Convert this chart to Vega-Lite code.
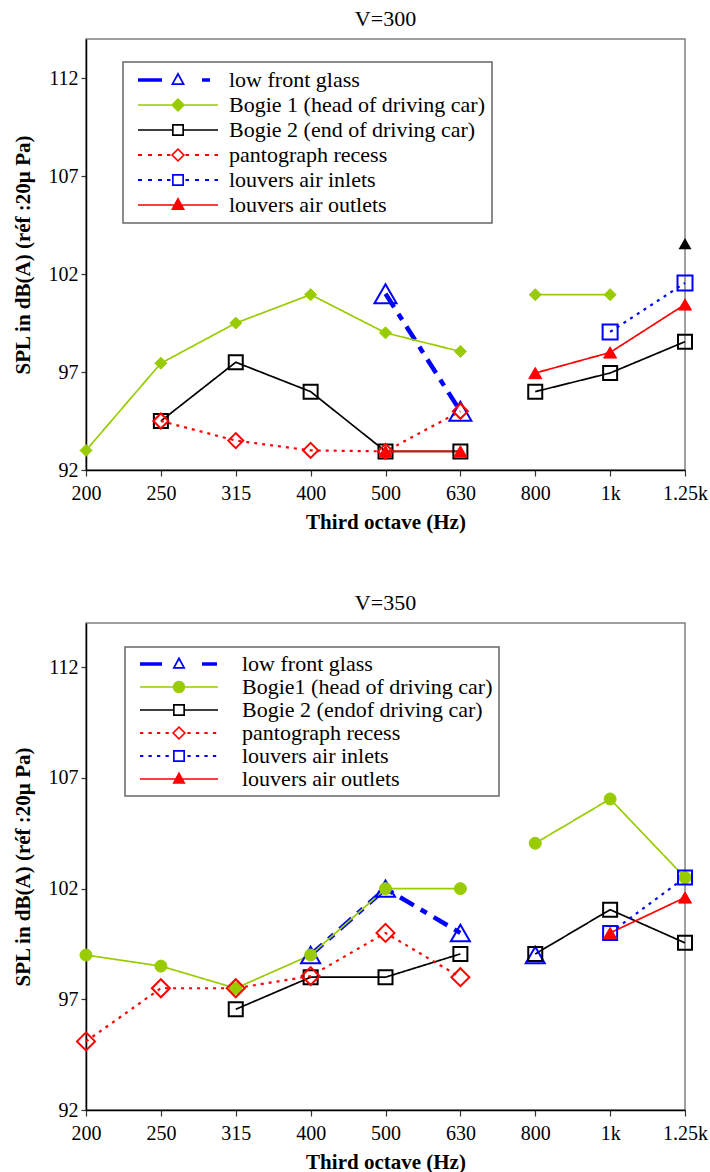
{
  "$schema": "https://vega.github.io/schema/vega-lite/v6.json",
  "background": "white",
  "padding": {"left": 11, "top": 7, "right": 0, "bottom": 0},
  "spacing": 58,
  "config": {
    "font": "Liberation Serif",
    "style": {"guide-label": {"font": "Liberation Serif"}, "guide-title": {"font": "Liberation Serif"}, "group-title": {"font": "Liberation Serif"}},
    "view": {"stroke": "#808080", "strokeWidth": 1.5},
    "axis": {"labelFont": "Liberation Serif", "titleFont": "Liberation Serif", "labelFontSize": 20, "titleFontSize": 21, "titleFontWeight": "bold", "labelColor": "black", "titleColor": "black", "domainColor": "black", "domainWidth": 1.5, "tickColor": "#333333", "tickWidth": 1.2, "tickSize": 6, "grid": false, "labelPadding": 3},
    "axisX": {"labelAngle": 0, "labelPadding": 7, "titlePadding": 8},
    "axisY": {"titlePadding": 15, "tickSize": 5},
    "title": {"font": "Liberation Serif", "fontSize": 22, "fontWeight": "normal", "color": "black", "offset": 8, "frame": "group"},
    "legend": {"labelFont": "Liberation Serif", "labelFontSize": 22, "labelColor": "black", "labelLimit": 400, "strokeColor": "#666666", "strokeWidth": 1.5, "fillColor": "white", "symbolSize": 144, "symbolStrokeWidth": 0, "symbolOpacity": 1}
  },
  "datasets": {
    "v300": [
      {"series": "low front glass", "hz": 500, "spl": 101, "seg": 1},
      {"series": "low front glass", "hz": 630, "spl": 95, "seg": 1},
      {"series": "Bogie 1 (head of driving car)", "hz": 200, "spl": 93, "seg": 1},
      {"series": "Bogie 1 (head of driving car)", "hz": 250, "spl": 97.45, "seg": 1},
      {"series": "Bogie 1 (head of driving car)", "hz": 315, "spl": 99.5, "seg": 1},
      {"series": "Bogie 1 (head of driving car)", "hz": 400, "spl": 100.95, "seg": 1},
      {"series": "Bogie 1 (head of driving car)", "hz": 500, "spl": 99, "seg": 1},
      {"series": "Bogie 1 (head of driving car)", "hz": 630, "spl": 98.05, "seg": 1},
      {"series": "Bogie 1 (head of driving car)", "hz": 800, "spl": 100.95, "seg": 2},
      {"series": "Bogie 1 (head of driving car)", "hz": 1000, "spl": 100.95, "seg": 2},
      {"series": "Bogie 2 (end of driving car)", "hz": 250, "spl": 94.5, "seg": 1},
      {"series": "Bogie 2 (end of driving car)", "hz": 315, "spl": 97.5, "seg": 1},
      {"series": "Bogie 2 (end of driving car)", "hz": 400, "spl": 96, "seg": 1},
      {"series": "Bogie 2 (end of driving car)", "hz": 500, "spl": 92.95, "seg": 1},
      {"series": "Bogie 2 (end of driving car)", "hz": 630, "spl": 92.95, "seg": 1},
      {"series": "Bogie 2 (end of driving car)", "hz": 800, "spl": 96, "seg": 2},
      {"series": "Bogie 2 (end of driving car)", "hz": 1000, "spl": 96.95, "seg": 2},
      {"series": "Bogie 2 (end of driving car)", "hz": 1250, "spl": 98.55, "seg": 2},
      {"series": "pantograph recess", "hz": 250, "spl": 94.5, "seg": 1},
      {"series": "pantograph recess", "hz": 315, "spl": 93.5, "seg": 1},
      {"series": "pantograph recess", "hz": 400, "spl": 93, "seg": 1},
      {"series": "pantograph recess", "hz": 500, "spl": 92.95, "seg": 1},
      {"series": "pantograph recess", "hz": 630, "spl": 95, "seg": 1},
      {"series": "louvers air inlets", "hz": 1000, "spl": 99.05, "seg": 2},
      {"series": "louvers air inlets", "hz": 1250, "spl": 101.55, "seg": 2},
      {"series": "louvers air outlets", "hz": 500, "spl": 92.95, "seg": 1},
      {"series": "louvers air outlets", "hz": 630, "spl": 92.95, "seg": 1},
      {"series": "louvers air outlets", "hz": 800, "spl": 96.95, "seg": 2},
      {"series": "louvers air outlets", "hz": 1000, "spl": 98, "seg": 2},
      {"series": "louvers air outlets", "hz": 1250, "spl": 100.45, "seg": 2}
    ],
    "v350": [
      {"series": "low front glass", "hz": 400, "spl": 99, "seg": 1},
      {"series": "low front glass", "hz": 500, "spl": 102, "seg": 1},
      {"series": "low front glass", "hz": 630, "spl": 100, "seg": 1},
      {"series": "low front glass", "hz": 800, "spl": 99, "seg": 2},
      {"series": "Bogie1 (head of driving car)", "hz": 200, "spl": 99, "seg": 1},
      {"series": "Bogie1 (head of driving car)", "hz": 250, "spl": 98.5, "seg": 1},
      {"series": "Bogie1 (head of driving car)", "hz": 315, "spl": 97.5, "seg": 1},
      {"series": "Bogie1 (head of driving car)", "hz": 400, "spl": 99, "seg": 1},
      {"series": "Bogie1 (head of driving car)", "hz": 500, "spl": 102, "seg": 1},
      {"series": "Bogie1 (head of driving car)", "hz": 630, "spl": 102, "seg": 1},
      {"series": "Bogie1 (head of driving car)", "hz": 800, "spl": 104.05, "seg": 2},
      {"series": "Bogie1 (head of driving car)", "hz": 1000, "spl": 106.05, "seg": 2},
      {"series": "Bogie1 (head of driving car)", "hz": 1250, "spl": 102.5, "seg": 2},
      {"series": "Bogie 2 (endof driving car)", "hz": 315, "spl": 96.55, "seg": 1},
      {"series": "Bogie 2 (endof driving car)", "hz": 400, "spl": 98, "seg": 1},
      {"series": "Bogie 2 (endof driving car)", "hz": 500, "spl": 98, "seg": 1},
      {"series": "Bogie 2 (endof driving car)", "hz": 630, "spl": 99.05, "seg": 1},
      {"series": "Bogie 2 (endof driving car)", "hz": 800, "spl": 99.05, "seg": 2},
      {"series": "Bogie 2 (endof driving car)", "hz": 1000, "spl": 101.05, "seg": 2},
      {"series": "Bogie 2 (endof driving car)", "hz": 1250, "spl": 99.55, "seg": 2},
      {"series": "pantograph recess", "hz": 200, "spl": 95.1, "seg": 1},
      {"series": "pantograph recess", "hz": 250, "spl": 97.5, "seg": 1},
      {"series": "pantograph recess", "hz": 315, "spl": 97.5, "seg": 1},
      {"series": "pantograph recess", "hz": 400, "spl": 98.05, "seg": 1},
      {"series": "pantograph recess", "hz": 500, "spl": 100, "seg": 1},
      {"series": "pantograph recess", "hz": 630, "spl": 98, "seg": 1},
      {"series": "louvers air inlets", "hz": 1000, "spl": 100, "seg": 2},
      {"series": "louvers air inlets", "hz": 1250, "spl": 102.5, "seg": 2},
      {"series": "louvers air outlets", "hz": 1000, "spl": 100, "seg": 2},
      {"series": "louvers air outlets", "hz": 1250, "spl": 101.6, "seg": 2}
    ]
  },
  "vconcat": [
    {
      "title": "V=300",
      "width": 599,
      "height": 431,
      "data": {"name": "v300"},
      "encoding": {
        "x": {"field": "hz", "type": "ordinal", "scale": {"type": "point", "padding": 0, "domain": [200, 250, 315, 400, 500, 630, 800, 1000, 1250]}, "axis": {"title": "Third octave (Hz)", "labelFont": "Liberation Serif", "titleFont": "Liberation Serif", "labelExpr": "datum.value == 1000 ? '1k' : datum.value == 1250 ? '1.25k' : datum.label"}},
        "y": {"field": "spl", "type": "quantitative", "scale": {"domain": [92, 114], "nice": false, "zero": false}, "axis": {"title": "SPL in dB(A) (réf :20µ Pa)", "labelFont": "Liberation Serif", "titleFont": "Liberation Serif", "values": [92, 97, 102, 107, 112]}}
      },
      "layer": [
        {
          "mark": {"type": "line"},
          "encoding": {
            "detail": [{"field": "series", "type": "nominal"}, {"field": "seg", "type": "nominal"}],
            "order": {"field": "hz", "type": "quantitative"},
            "stroke": {"condition": [{"test": "datum.series === 'low front glass' || datum.series === 'louvers air inlets'", "value": "#0000ff"}, {"test": "datum.series === 'Bogie 1 (head of driving car)'", "value": "#99cc00"}, {"test": "datum.series === 'pantograph recess' || datum.series === 'louvers air outlets'", "value": "#ff0000"}], "value": "#000000"},
            "strokeDash": {"condition": [{"test": "datum.series === 'low front glass'", "value": [16, 8, 7, 8]}, {"test": "datum.series === 'pantograph recess' || datum.series === 'louvers air inlets'", "value": [3, 5]}], "value": [1, 0]},
            "strokeWidth": {"condition": [{"test": "datum.series === 'low front glass'", "value": 4.5}, {"test": "datum.series === 'pantograph recess' || datum.series === 'louvers air inlets'", "value": 2.2}], "value": 1.7}
          }
        },
        {
          "mark": {"type": "point", "opacity": 1},
          "encoding": {
            "shape": {"condition": [{"test": "datum.series === 'low front glass' || datum.series === 'louvers air outlets'", "value": "triangle-up"}, {"test": "datum.series === 'Bogie 1 (head of driving car)' || datum.series === 'pantograph recess'", "value": "diamond"}], "value": "square"},
            "fill": {"condition": [{"test": "datum.series === 'Bogie 1 (head of driving car)'", "value": "#99cc00"}, {"test": "datum.series === 'louvers air outlets'", "value": "#ff0000"}], "value": "transparent"},
            "stroke": {"condition": [{"test": "datum.series === 'low front glass' || datum.series === 'louvers air inlets'", "value": "#0000ff"}, {"test": "datum.series === 'Bogie 1 (head of driving car)'", "value": "#99cc00"}, {"test": "datum.series === 'pantograph recess' || datum.series === 'louvers air outlets'", "value": "#ff0000"}], "value": "#000000"},
            "size": {"condition": [{"test": "datum.series === 'low front glass'", "value": 484}, {"test": "datum.series === 'Bogie 1 (head of driving car)'", "value": 144}, {"test": "datum.series === 'pantograph recess' || datum.series === 'louvers air inlets'", "value": 225}, {"test": "datum.series === 'louvers air outlets'", "value": 169}], "value": 196},
            "strokeWidth": {"condition": [{"test": "datum.series === 'Bogie 1 (head of driving car)' || datum.series === 'louvers air outlets'", "value": 1}], "value": 2}
          }
        },
        {
          "transform": [{"filter": "false"}],
          "mark": {"type": "point", "filled": true, "opacity": 1},
          "encoding": {
            "shape": {"field": "series", "type": "nominal",
              "scale": {"domain": ["low front glass", "Bogie 1 (head of driving car)", "Bogie 2 (end of driving car)", "pantograph recess", "louvers air inlets", "louvers air outlets"],
                "range": ["M-6.67,-0.3H-2.67V0.3H-6.67ZM4,-0.3H5.33V0.3H4ZM0,-1.33L1.17,0.83L-1.17,0.83ZM0,-0.72L-0.69,0.55L0.69,0.55Z", "M-6.67,-0.14H6.67V0.14H-6.67ZM0,-1.17L1.17,0L0,1.17L-1.17,0Z", "M-6.67,-0.14H-1V0.14H-6.67ZM1,-0.14H6.67V0.14H1ZM-1,-1H1V1H-1ZM-0.72,-0.72V0.72H0.72V-0.72Z", "M-6.67,-0.17H-6V0.17H-6.67ZM-5,-0.17H-4.33V0.17H-5ZM-3.33,-0.17H-2.67V0.17H-3.33ZM-1.83,-0.17H-1.25V0.17H-1.83ZM1.25,-0.17H1.83V0.17H1.25ZM2.83,-0.17H3.5V0.17H2.83ZM4.5,-0.17H5.17V0.17H4.5ZM6.08,-0.17H6.67V0.17H6.08ZM0,-1.17L1.17,0L0,1.17L-1.17,0ZM0,-0.8L-0.8,0L0,0.8L0.8,0Z", "M-6.67,-0.17H-6V0.17H-6.67ZM-5,-0.17H-4.33V0.17H-5ZM-3.33,-0.17H-2.67V0.17H-3.33ZM-1.83,-0.17H-1.25V0.17H-1.83ZM1.25,-0.17H1.83V0.17H1.25ZM2.83,-0.17H3.5V0.17H2.83ZM4.5,-0.17H5.17V0.17H4.5ZM6.08,-0.17H6.67V0.17H6.08ZM-1,-1H1V1H-1ZM-0.72,-0.72V0.72H0.72V-0.72Z", "M-6.67,-0.14H6.67V0.14H-6.67ZM0,-1.33L1.17,0.83L-1.17,0.83Z"]},
              "legend": {"title": null, "orient": "none", "legendX": 37, "legendY": 23, "padding": 7, "rowPadding": 3, "symbolOffset": 37, "labelOffset": 40}},
            "fill": {"field": "series", "type": "nominal",
              "scale": {"domain": ["low front glass", "Bogie 1 (head of driving car)", "Bogie 2 (end of driving car)", "pantograph recess", "louvers air inlets", "louvers air outlets"], "range": ["#0000ff", "#99cc00", "#000000", "#ff0000", "#0000ff", "#ff0000"]},
              "legend": {"title": null, "orient": "none", "legendX": 37, "legendY": 23, "padding": 7, "rowPadding": 3, "symbolOffset": 37, "labelOffset": 40}}
          }
        },
        {
          "data": {"values": [{"hz": 1250, "spl": 103.55}]},
          "mark": {"type": "point", "shape": "triangle-up", "filled": true, "color": "black", "size": 169, "opacity": 1}
        }
      ]
    },
    {
      "title": "V=350",
      "width": 599,
      "height": 487,
      "data": {"name": "v350"},
      "encoding": {
        "x": {"field": "hz", "type": "ordinal", "scale": {"type": "point", "padding": 0, "domain": [200, 250, 315, 400, 500, 630, 800, 1000, 1250]}, "axis": {"title": "Third octave (Hz)", "labelFont": "Liberation Serif", "titleFont": "Liberation Serif", "labelExpr": "datum.value == 1000 ? '1k' : datum.value == 1250 ? '1.25k' : datum.label"}},
        "y": {"field": "spl", "type": "quantitative", "scale": {"domain": [92, 114], "nice": false, "zero": false}, "axis": {"title": "SPL in dB(A) (réf :20µ Pa)", "labelFont": "Liberation Serif", "titleFont": "Liberation Serif", "values": [92, 97, 102, 107, 112]}}
      },
      "layer": [
        {
          "mark": {"type": "line"},
          "encoding": {
            "detail": [{"field": "series", "type": "nominal"}, {"field": "seg", "type": "nominal"}],
            "order": {"field": "hz", "type": "quantitative"},
            "stroke": {"condition": [{"test": "datum.series === 'low front glass' || datum.series === 'louvers air inlets'", "value": "#0000ff"}, {"test": "datum.series === 'Bogie1 (head of driving car)'", "value": "#99cc00"}, {"test": "datum.series === 'pantograph recess' || datum.series === 'louvers air outlets'", "value": "#ff0000"}], "value": "#000000"},
            "strokeDash": {"condition": [{"test": "datum.series === 'low front glass'", "value": [16, 8, 7, 8]}, {"test": "datum.series === 'pantograph recess' || datum.series === 'louvers air inlets'", "value": [3, 5]}], "value": [1, 0]},
            "strokeWidth": {"condition": [{"test": "datum.series === 'low front glass'", "value": 4.5}, {"test": "datum.series === 'pantograph recess' || datum.series === 'louvers air inlets'", "value": 2.2}], "value": 1.7}
          }
        },
        {
          "mark": {"type": "point", "opacity": 1},
          "encoding": {
            "shape": {"condition": [{"test": "datum.series === 'low front glass' || datum.series === 'louvers air outlets'", "value": "triangle-up"}, {"test": "datum.series === 'Bogie1 (head of driving car)'", "value": "circle"}, {"test": "datum.series === 'pantograph recess'", "value": "diamond"}], "value": "square"},
            "fill": {"condition": [{"test": "datum.series === 'Bogie1 (head of driving car)'", "value": "#99cc00"}, {"test": "datum.series === 'louvers air outlets'", "value": "#ff0000"}], "value": "transparent"},
            "stroke": {"condition": [{"test": "datum.series === 'low front glass' || datum.series === 'louvers air inlets'", "value": "#0000ff"}, {"test": "datum.series === 'Bogie1 (head of driving car)'", "value": "#99cc00"}, {"test": "datum.series === 'pantograph recess' || datum.series === 'louvers air outlets'", "value": "#ff0000"}], "value": "#000000"},
            "size": {"condition": [{"test": "datum.series === 'low front glass'", "value": 361}, {"test": "datum.series === 'Bogie1 (head of driving car)'", "value": 144}, {"test": "datum.series === 'pantograph recess'", "value": 324}, {"test": "datum.series === 'louvers air outlets'", "value": 169}], "value": 196},
            "strokeWidth": {"condition": [{"test": "datum.series === 'Bogie1 (head of driving car)' || datum.series === 'louvers air outlets'", "value": 1}], "value": 2}
          }
        },
        {
          "transform": [{"filter": "false"}],
          "mark": {"type": "point", "filled": true, "opacity": 1},
          "encoding": {
            "shape": {"field": "series", "type": "nominal",
              "scale": {"domain": ["low front glass", "Bogie1 (head of driving car)", "Bogie 2 (endof driving car)", "pantograph recess", "louvers air inlets", "louvers air outlets"],
                "range": ["M-6.5,-0.3H-2.83V0.3H-6.5ZM3.83,-0.3H6.33V0.3H3.83ZM0,-1.25L1.1,0.78L-1.1,0.78ZM0,-0.64L-0.62,0.5L0.62,0.5Z", "M-6.5,-0.14H6.5V0.14H-6.5ZM1.05,0L0.909,0.525L0.525,0.909L0,1.05L-0.525,0.909L-0.909,0.525L-1.05,0L-0.909,-0.525L-0.525,-0.909L0,-1.05L0.525,-0.909L0.909,-0.525Z", "M-6.5,-0.14H-1V0.14H-6.5ZM1,-0.14H6.5V0.14H1ZM-1,-1H1V1H-1ZM-0.72,-0.72V0.72H0.72V-0.72Z", "M-6.5,-0.17H-5.95V0.17H-6.5ZM-5.08,-0.17H-4.53V0.17H-5.08ZM-3.67,-0.17H-3.12V0.17H-3.67ZM-2.25,-0.17H-1.7V0.17H-2.25ZM1.4,-0.17H1.95V0.17H1.4ZM2.82,-0.17H3.37V0.17H2.82ZM4.23,-0.17H4.78V0.17H4.23ZM5.65,-0.17H6.2V0.17H5.65ZM0,-1.17L1.17,0L0,1.17L-1.17,0ZM0,-0.8L-0.8,0L0,0.8L0.8,0Z", "M-6.5,-0.17H-5.95V0.17H-6.5ZM-5.08,-0.17H-4.53V0.17H-5.08ZM-3.67,-0.17H-3.12V0.17H-3.67ZM-2.25,-0.17H-1.7V0.17H-2.25ZM1.4,-0.17H1.95V0.17H1.4ZM2.82,-0.17H3.37V0.17H2.82ZM4.23,-0.17H4.78V0.17H4.23ZM5.65,-0.17H6.2V0.17H5.65ZM-1,-1H1V1H-1ZM-0.72,-0.72V0.72H0.72V-0.72Z", "M-6.5,-0.14H6.5V0.14H-6.5ZM0,-1.25L1.1,0.78L-1.1,0.78Z"]},
              "legend": {"title": null, "orient": "none", "legendX": 39, "legendY": 24, "padding": 6, "rowPadding": 1, "symbolOffset": 37, "labelOffset": 52}},
            "fill": {"field": "series", "type": "nominal",
              "scale": {"domain": ["low front glass", "Bogie1 (head of driving car)", "Bogie 2 (endof driving car)", "pantograph recess", "louvers air inlets", "louvers air outlets"], "range": ["#0000ff", "#99cc00", "#000000", "#ff0000", "#0000ff", "#ff0000"]},
              "legend": {"title": null, "orient": "none", "legendX": 39, "legendY": 24, "padding": 6, "rowPadding": 1, "symbolOffset": 37, "labelOffset": 52}}
          }
        }
      ]
    }
  ],
  "resolve": {
    "scale": {"fill": "independent", "shape": "independent", "x": "independent", "y": "independent"},
    "legend": {"fill": "independent", "shape": "independent"}
  }
}
